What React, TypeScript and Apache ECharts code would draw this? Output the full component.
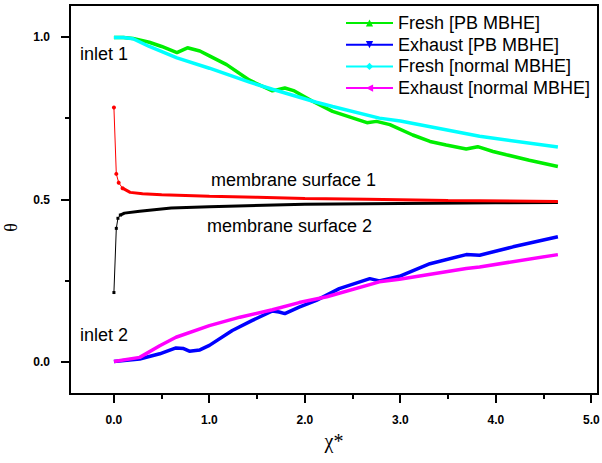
import React, { useEffect, useRef } from "react";
import * as echarts from "echarts";

// ---- data ----
const freshPBX = [0, 0.1, 0.2, 0.37, 0.5, 0.66, 0.77, 0.9, 1.0, 1.18, 1.42, 1.66, 1.79, 1.89, 2.08, 2.29, 2.65, 2.75, 2.89, 3.13, 3.31, 3.48, 3.69, 3.81, 3.97, 4.11, 4.35, 4.65];
const freshPBY = [1.0, 1.0, 0.997, 0.985, 0.972, 0.953, 0.968, 0.958, 0.943, 0.916, 0.868, 0.835, 0.844, 0.835, 0.803, 0.772, 0.737, 0.741, 0.731, 0.699, 0.679, 0.668, 0.656, 0.663, 0.648, 0.638, 0.621, 0.602];

const exhaustPBX = [0, 0.27, 0.48, 0.65, 0.73, 0.79, 0.9, 1.0, 1.24, 1.45, 1.66, 1.73, 1.79, 1.94, 2.12, 2.36, 2.68, 2.78, 2.99, 3.31, 3.69, 3.83, 4.18, 4.65];
const exhaustPBY = [0, 0.008, 0.024, 0.042, 0.04, 0.032, 0.036, 0.05, 0.096, 0.127, 0.156, 0.153, 0.148, 0.168, 0.189, 0.225, 0.256, 0.249, 0.263, 0.302, 0.33, 0.328, 0.354, 0.385];

const freshNX = [0, 0.1, 0.2, 0.37, 0.66, 1.0, 1.42, 1.66, 2.12, 2.29, 2.78, 3.0, 3.83, 4.65];
const freshNY = [1.0, 1.0, 0.996, 0.972, 0.937, 0.905, 0.862, 0.84, 0.8, 0.787, 0.751, 0.742, 0.695, 0.662];

const exhaustNX = [0, 0.27, 0.48, 0.65, 1.0, 1.32, 1.66, 1.94, 2.23, 2.78, 2.99, 3.69, 3.83, 4.65];
const exhaustNY = [0, 0.013, 0.049, 0.075, 0.111, 0.137, 0.16, 0.182, 0.2, 0.246, 0.254, 0.287, 0.292, 0.33];

const membrane1X = [0, 0.025, 0.05, 0.09, 0.17, 0.3, 0.5, 1.0, 1.5, 2.0, 2.65, 3.5, 4.65];
const membrane1Y = [0.784, 0.579, 0.552, 0.535, 0.522, 0.518, 0.515, 0.51, 0.507, 0.503, 0.501, 0.497, 0.494];

const membrane2X = [0, 0.025, 0.042, 0.067, 0.11, 0.27, 0.6, 1.0, 2.0, 3.0, 4.0, 4.65];
const membrane2Y = [0.213, 0.411, 0.442, 0.452, 0.458, 0.464, 0.474, 0.478, 0.485, 0.488, 0.49, 0.491];

const seriesNames = ["Fresh [PB MBHE]", "Exhaust [PB MBHE]", "Fresh [normal MBHE]", "Exhaust [normal MBHE]"];
const xMajorTicks = [0, 1, 2, 3, 4, 5];
const xMinorTicks = [0.5, 1.5, 2.5, 3.5, 4.5];
const yMajorTicks = [0, 0.5, 1.0];
const yMinorTicks = [0.25, 0.75];

const zip = (xs: number[], ys: number[]) => xs.map((x, i) => [x, ys[i]]);

export default function App() {
  const ref = useRef<HTMLDivElement>(null);
  useEffect(() => {
    if (!ref.current) return;
    const chart = echarts.init(ref.current, undefined, { renderer: "svg" });
    const font = "Liberation Sans";
    const xMin = -0.46, xMax = 5.07, yMin = -0.1, yMax = 1.1;
    const labelStyle = { fontFamily: font, fontSize: 12, fontWeight: "bold" as const, color: "#000" };
    const thick = (name: string, color: string, data: number[][], symbol: string, rotate = 0, z = 2) => ({
      type: "line",
      name,
      data,
      symbol,
      symbolSize: 6,
      symbolRotate: rotate,
      showSymbol: false,
      lineStyle: { color, width: 3.5 },
      itemStyle: { color },
      z,
      silent: true,
    });
    const m1 = zip(membrane1X, membrane1Y);
    const m2 = zip(membrane2X, membrane2Y);
    const annotations: any[] = [
      { type: "text", left: 80, top: 45, style: { text: "inlet 1", font: `18px '${font}'`, fill: "#000" } },
      { type: "text", left: 80, top: 326, style: { text: "inlet 2", font: `18px '${font}'`, fill: "#000" } },
      { type: "text", left: 211, top: 171, style: { text: "membrane surface 1", font: `18px '${font}'`, fill: "#000" } },
      { type: "text", left: 207, top: 217, style: { text: "membrane surface 2", font: `18px '${font}'`, fill: "#000" } },
    ];
    chart.setOption({
      animation: false,
      backgroundColor: "#fff",
      grid: {
        left: 70, top: 5, right: 4, bottom: 69, show: true, borderColor: "#000", borderWidth: 2,
        backgroundColor: "transparent", containLabel: false, outerBoundsMode: "none",
      },
      legend: {
        data: seriesNames,
        orient: "vertical",
        left: 345,
        top: 14,
        padding: 0,
        itemWidth: 47,
        itemHeight: 9,
        itemGap: 3.7,
        textStyle: { fontFamily: font, fontSize: 18, color: "#000" },
        selectedMode: false,
      },
      xAxis: {
        type: "value",
        min: xMin,
        max: xMax,
        position: "bottom",
        axisLine: { show: true, onZero: false, lineStyle: { color: "#000", width: 2 } },
        axisTick: { show: false },
        axisLabel: { customValues: xMajorTicks, formatter: (v: number) => v.toFixed(1), margin: 20, ...labelStyle },
        splitLine: { show: false },
        name: "χ*",
        nameLocation: "middle",
        nameGap: 36,
        nameTextStyle: { fontFamily: "Liberation Serif", fontSize: 20, color: "#000" },
      },
      yAxis: {
        type: "value",
        min: yMin,
        max: yMax,
        position: "left",
        axisLine: { show: true, onZero: false, lineStyle: { color: "#000", width: 2 } },
        axisTick: { show: false },
        axisLabel: { customValues: yMajorTicks, formatter: (v: number) => v.toFixed(1), margin: 20, ...labelStyle },
        splitLine: { show: false },
        name: "θ",
        nameLocation: "middle",
        nameRotate: 90,
        nameGap: 50,
        nameTextStyle: { fontFamily: "Liberation Serif", fontSize: 18, color: "#000", padding: [0, 56, 0, 0] },
      },
      series: [
        {
          type: "line", data: m2.slice(0, 4), symbol: "rect", symbolSize: 3, showSymbol: true,
          lineStyle: { color: "#000", width: 1 }, itemStyle: { color: "#000" }, silent: true, z: 2,
        },
        {
          type: "line", data: m2.slice(3), showSymbol: false,
          lineStyle: { color: "#000", width: 3 }, silent: true, z: 2,
        },
        {
          type: "line", data: m1.slice(0, 4), symbol: "circle", symbolSize: 4, showSymbol: true,
          lineStyle: { color: "#ff0000", width: 1 }, itemStyle: { color: "#ff0000" }, silent: true, z: 2,
        },
        {
          type: "line", data: m1.slice(3), showSymbol: false,
          lineStyle: { color: "#ff0000", width: 3 }, silent: true, z: 2,
        },
        thick(seriesNames[0], "#00ee00", zip(freshPBX, freshPBY), "triangle"),
        thick(seriesNames[1], "#0000ff", zip(exhaustPBX, exhaustPBY), "triangle", 180),
        thick(seriesNames[2], "#00ffff", zip(freshNX, freshNY), "diamond"),
        thick(seriesNames[3], "#ff00ff", zip(exhaustNX, exhaustNY), "triangle", 90),
      ],
      graphic: annotations,
    });

    // tick marks, positioned through the axes' own scales
    const ticks: any[] = [];
    try {
      const num = (r: any, i: number) => (Array.isArray(r) ? r[i] : Number(r));
      const px = (v: number) => num(chart.convertToPixel({ xAxisIndex: 0 } as any, v), 0);
      const py = (v: number) => num(chart.convertToPixel({ yAxisIndex: 0 } as any, v), 1);
      const bottomY = Math.round(py(yMin));
      const leftX = Math.round(px(xMin));
      const addX = (vals: number[], len: number) => vals.forEach((v) => {
        const x = Math.round(px(v));
        ticks.push({ type: "line", shape: { x1: x, y1: bottomY, x2: x, y2: bottomY + len }, style: { stroke: "#000", lineWidth: 2 } });
      });
      const addY = (vals: number[], len: number) => vals.forEach((v) => {
        const y = Math.round(py(v));
        ticks.push({ type: "line", shape: { x1: leftX - len, y1: y, x2: leftX, y2: y }, style: { stroke: "#000", lineWidth: 2 } });
      });
      addX(xMajorTicks, 9);
      addX(xMinorTicks, 5);
      addY(yMajorTicks, 9);
      addY(yMinorTicks, 5);
    } catch (e) {
      // leave ticks empty
    }
    if (ticks.length) chart.setOption({ graphic: [...annotations, ...ticks] });
    return () => chart.dispose();
  }, []);
  return <div ref={ref} style={{ width: 602, height: 463, position: "absolute", left: 0, top: 0 }} />;
}
